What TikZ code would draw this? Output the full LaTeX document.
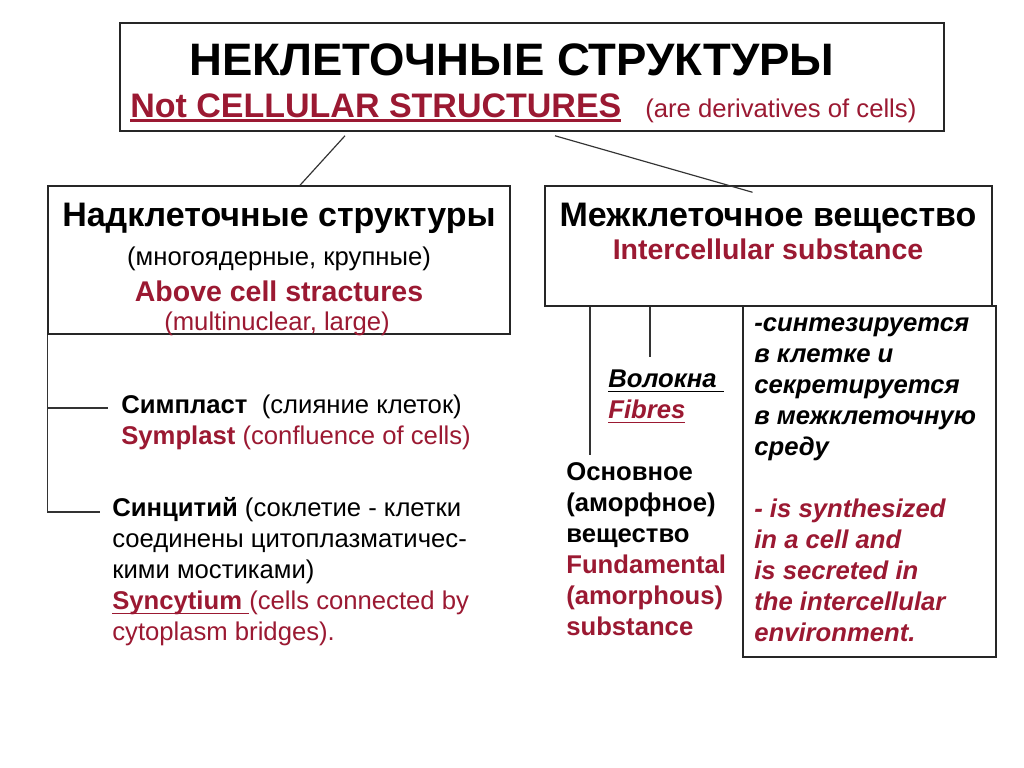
\documentclass[tikz,border=0pt]{standalone}
\usepackage{fontspec}
\setmainfont{Liberation Sans}
\usetikzlibrary{fit,calc}
\definecolor{bordo}{RGB}{155,25,50}
\newcommand{\podch}[2][0.8pt]{{\setbox0\hbox{#2}\rlap{\vrule width\wd0 height\dimexpr#1-3pt\relax depth 3pt}\box0}}

\tikzset{
  ramka/.style={draw=black!85, line width=0.9pt, inner sep=0pt},
  vetka/.style={draw=black!80, line width=0.7pt},
  tekst/.style={inner sep=0pt, align=left, anchor=base west,
    font=\fontsize{15.4}{18.6}\selectfont},
  zagl/.style={inner sep=0pt, anchor=base, font=\fontsize{20.4}{24}\selectfont\bfseries}
}

\begin{document}
\begin{tikzpicture}[x=0.6pt, y=-0.6pt]
  \useasboundingbox[fill=white] (0,0) rectangle (1024,767);

  % verkhnij blok
  \node[ramka, fit={(120,23) (944,131)}] (nekl) {};
  \node[inner sep=0pt, anchor=base, font=\fontsize{27.3}{30}\selectfont\bfseries] (neklT) at (512,75) {НЕКЛЕТОЧНЫЕ СТРУКТУРЫ};
  \node[inner sep=0pt, anchor=base west, text=bordo, font=\fontsize{20.4}{24}\selectfont\bfseries] (notcell) at (130,117) {\podch[1.8pt]{Not CELLULAR STRUCTURES}};
  \node[tekst, text=bordo] (deriv) at (645,117) {(are derivatives of cells)};

  % nadkletochnye
  \node[ramka, fit={(48,186) (510,334)}] (nadkl) {};
  \node[zagl] (nadklT) at (279,226) {Надклеточные структуры};
  \node[tekst, anchor=base] (nadklA) at (279,265) {(многоядерные, крупные)};
  \node[tekst, anchor=base, text=bordo, font=\fontsize{17.1}{18.6}\selectfont\bfseries] (nadklE) at (279,301) {Above cell stractures};
  \node[tekst, anchor=base, text=bordo] (nadklB) at (277,330) {(multinuclear, large)};

  % mezhkletochnoe
  \node[ramka, fit={(545,186) (992,306)}] (mezhkl) {};
  \node[zagl] (mezhklT) at (768,226) {Межклеточное вещество};
  \node[tekst, anchor=base, text=bordo, font=\fontsize{17.1}{18.6}\selectfont\bfseries] (mezhklE) at (768,259) {Intercellular substance};

  \draw[vetka] ($(nekl.south)+(-187,4)$) -- ($(nadkl.north)+(21,0)$);
  \draw[vetka] ($(nekl.south)+(23,4)$) -- ($(mezhkl.north)+(-16,7)$);

  % levaya vetka
  \coordinate (simpl-in) at (108,408);
  \coordinate (sinc-in) at (100,512);
  \draw[vetka] (nadkl.south west) |- (sinc-in);
  \draw[vetka] (nadkl.south west |- simpl-in) -- (simpl-in);

  % (base = poslednyaya stroka)
  \node[tekst] (simplast) at (121,444) {\textbf{Симпласт}\ \ (слияние клеток)\\
    \color{bordo}\textbf{Symplast} (confluence of cells)};
  \node[tekst] (sincitij) at (112,640) {\textbf{Синцитий} (соклетие - клетки\\
    соединены цитоплазматичес-\\
    кими мостиками)\\
    \color{bordo}\podch{\textbf{Syncytium }}(cells connected by\\
    \color{bordo}cytoplasm bridges).};

  % srednie vetki
  \coordinate (vol-top) at (650,357);
  \coordinate (osn-top) at (590,455);
  \draw[vetka] (vol-top |- mezhkl.south) -- (vol-top);
  \draw[vetka] (osn-top |- mezhkl.south) -- (osn-top);

  \node[tekst, font=\fontsize{15.4}{18.6}\selectfont\bfseries\itshape] (volokna) at (608,418) {\podch{Волокна }\\
    \color{bordo}\podch{Fibres}};
  \node[tekst, font=\fontsize{15.4}{18.6}\selectfont\bfseries] (osnovnoe) at (566,635) {Основное\\
    (аморфное)\\
    вещество\\
    \color{bordo}Fundamental\\
    \color{bordo}(amorphous)\\
    \color{bordo}substance};

  % pravyj blok
  \node[ramka, fit={(743,306) (996,657)}] (sintez) {};
  \node[tekst, font=\fontsize{15.4}{18.6}\selectfont\bfseries\itshape] (sintezT) at (754,641) {-синтезируется\\
    в клетке и\\
    секретируется\\
    в межклеточную\\
    среду\\[18.6pt]
    \color{bordo}- is synthesized\\
    \color{bordo}in a cell and\\
    \color{bordo}is secreted in\\
    \color{bordo}the intercellular\\
    \color{bordo}environment.};
\end{tikzpicture}
\end{document}
